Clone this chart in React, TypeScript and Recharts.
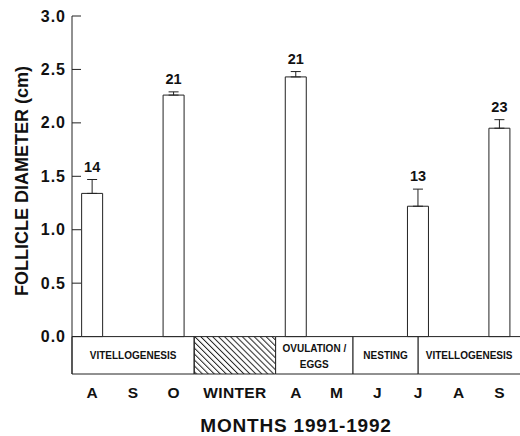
import React from "react";
import {
  BarChart,
  Bar,
  XAxis,
  YAxis,
  ErrorBar,
  LabelList,
  ReferenceArea,
  Label,
} from "recharts";

// month axis: index positions, winter label sits between the two hidden months
const monthTicks = [0, 1, 2, 3.5, 5, 6, 7, 8, 9, 10];
const monthLabels = ["A", "S", "O", "WINTER", "A", "M", "J", "J", "A", "S"];

// follicle data
const barMonth = [0, 2, 5, 8, 10];
const meanDiameter = [1.34, 2.26, 2.43, 1.22, 1.95];
const stdError = [0.13, 0.03, 0.05, 0.16, 0.08];
const sampleSize = [14, 21, 21, 13, 23];

const yTicks = [0, 0.5, 1, 1.5, 2, 2.5, 3];

// reproductive phases shown in the strip under zero
const phaseStart = [-0.5, 2.5, 4.5, 6.4, 8.0];
const phaseEnd = [2.5, 4.5, 6.4, 8.0, 10.55];
const phaseText = [["VITELLOGENESIS"], [], ["OVULATION /", "EGGS"], ["NESTING"], ["VITELLOGENESIS"]];
const phaseHatched = [false, true, false, false, false];

const data = barMonth.map((m, i) => ({
  month: m,
  mean: meanDiameter[i],
  err: [0, stdError[i]],
  n: sampleSize[i],
}));

const FONT = "'Liberation Sans', Arial, Helvetica, sans-serif";
const INK = "#222";
const CHART_W = 520;

const YTick = (props: any) => {
  const { x, y, payload } = props;
  return (
    <g>
      <line x1={x + 6} x2={x + 15} y1={y} y2={y} stroke={INK} strokeWidth={1} />
      <text
        x={x}
        y={y}
        textAnchor="end"
        dominantBaseline="central"
        fontSize={16}
        fontWeight="bold"
        letterSpacing={1}
        fill="#111"
        fontFamily={FONT}
      >
        {Number(payload.value).toFixed(1)}
      </text>
    </g>
  );
};

const CountLabel = (props: any) => {
  const { x, y, width, height, index } = props;
  const d = data[index];
  const errPx = (stdError[index] / d.mean) * height;
  return (
    <text
      x={x + width / 2}
      y={y - errPx - 8}
      textAnchor="middle"
      fontSize={14.5}
      fontWeight="bold"
      fill="#111"
      fontFamily={FONT}
    >
      {d.n}
    </text>
  );
};

const PhaseLabel = (props: any) => {
  const { viewBox, lines } = props;
  if (!viewBox || !lines.length) return null;
  const right = Math.min(viewBox.x + viewBox.width, CHART_W);
  const cx = (viewBox.x + right) / 2;
  const cy = viewBox.y + viewBox.height / 2 + (lines.length > 1 ? 1 : 0);
  return (
    <g>
      {lines.map((t: string, i: number) => (
        <text
          key={i}
          x={cx}
          y={cy + (i - (lines.length - 1) / 2) * 16}
          textAnchor="middle"
          dominantBaseline="central"
          fontSize={10}
          fontWeight="bold"
          fill="#111"
          fontFamily={FONT}
        >
          {t}
        </text>
      ))}
    </g>
  );
};

const YTitle = (props: any) => {
  const { viewBox } = props;
  const x = viewBox.x + 28;
  const y = viewBox.y + viewBox.height / 2 - 14;
  return (
    <text
      x={x}
      y={y}
      transform={`rotate(-90, ${x}, ${y})`}
      textAnchor="middle"
      fontSize={18}
      fontWeight="bold"
      fill="#111"
      fontFamily={FONT}
    >
      FOLLICLE DIAMETER (cm)
    </text>
  );
};

export default function App() {
  return (
    <div style={{ position: "absolute", left: 0, top: 0, width: 520, height: 436, background: "#fff" }}>
      <svg width={0} height={0} style={{ position: "absolute" }}>
        <defs>
          <pattern id="hatch" width={4.2} height={4.2} patternUnits="userSpaceOnUse" patternTransform="rotate(-45)">
            <line x1={0.5} y1={0} x2={0.5} y2={4.2} stroke="#222" strokeWidth={1} />
          </pattern>
        </defs>
      </svg>
      <BarChart
        width={CHART_W}
        height={436}
        data={data}
        margin={{ top: 16, right: 0, left: 0, bottom: 0 }}
        style={{ fontFamily: FONT }}
      >
        <XAxis
          type="number"
          dataKey="month"
          domain={[-0.5, 10.5]}
          ticks={monthTicks}
          allowDataOverflow
          tickFormatter={(v: number) => monthLabels[monthTicks.indexOf(v)]}
          axisLine={false}
          tickLine={false}
          tickSize={0}
          tickMargin={13}
          height={62}
          interval={0}
          tick={{ fontSize: 15.5, fontWeight: "bold", fill: "#111", letterSpacing: 0.4 }}
        >
          <Label
            value="MONTHS 1991-1992"
            position="insideBottom"
            offset={4}
            fontSize={19}
            fontWeight="bold"
            letterSpacing={0.8}
            fill="#111"
          />
        </XAxis>
        <YAxis
          type="number"
          domain={[-0.35, 3]}
          allowDataOverflow
          ticks={yTicks}
          width={72}
          tickSize={0}
          tickMargin={6}
          tickLine={false}
          axisLine={{ stroke: INK, strokeWidth: 1 }}
          tick={<YTick />}
          interval={0}
        >
          <Label content={<YTitle />} />
        </YAxis>
        {phaseStart.map((s, i) => (
          <ReferenceArea
            key={i}
            x1={s}
            x2={phaseEnd[i]}
            y1={-0.35}
            y2={0}
            ifOverflow="visible"
            fill={phaseHatched[i] ? "url(#hatch)" : "#fff"}
            fillOpacity={1}
            stroke={INK}
            strokeWidth={1}
            label={<PhaseLabel lines={phaseText[i]} />}
          />
        ))}
        <Bar
          dataKey="mean"
          barSize={21}
          fill="#fff"
          stroke={INK}
          strokeWidth={1}
          isAnimationActive={false}
        >
          <ErrorBar dataKey="err" width={5} stroke={INK} strokeWidth={1} direction="y" />
          <LabelList dataKey="n" content={<CountLabel />} />
        </Bar>
      </BarChart>
    </div>
  );
}
